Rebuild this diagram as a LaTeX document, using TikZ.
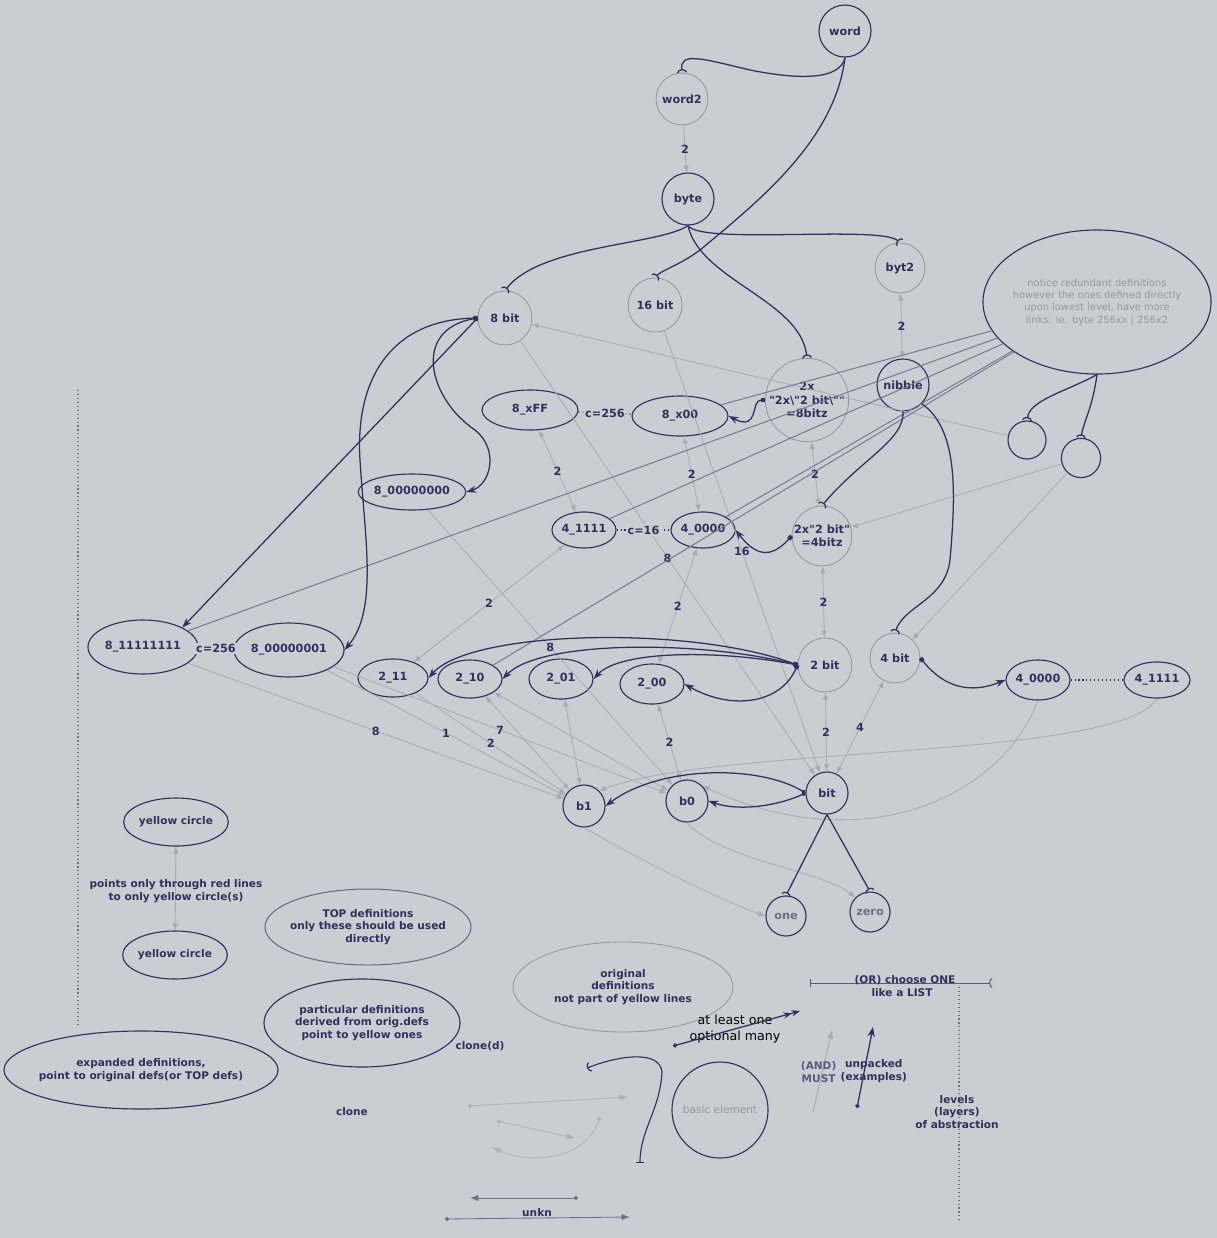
\documentclass[tikz,border=0pt]{standalone}
\usepackage{fontspec}
\setmainfont{DejaVu Sans}[Ligatures=TeXOff]
\usetikzlibrary{shapes.geometric,arrows.meta,positioning}
\definecolor{paper}{RGB}{201,206,211}
\definecolor{ink}{RGB}{46,50,92}
\definecolor{faint}{RGB}{146,151,162}
\definecolor{pale}{RGB}{166,171,180}
\tikzset{
	every node/.style={font=\fontsize{8}{9.5}\selectfont\bfseries, text=ink, align=center}, % bold labels everywhere
	small/.style={font=\fontsize{7.5}{9}\selectfont\bfseries}, % legend text
	dkc/.style={circle, draw=ink, line width=0.8pt, inner sep=0pt, minimum size=#1}, % dark circle
	ltc/.style={circle, draw=faint, line width=0.6pt, inner sep=0pt, minimum size=#1}, % light circle
	dko/.style 2 args={ellipse, draw=ink, line width=0.8pt, inner sep=0pt, minimum width=#1, minimum height=#2}, % dark ellipse
	lto/.style 2 args={ellipse, draw=faint, line width=0.6pt, inner sep=0pt, minimum width=#1, minimum height=#2}, % light ellipse
	pick/.style={draw=ink, line width=0.9pt, -{Arc Barb[reversed,length=2.5pt,width=7pt]}}, % link ending in a fork
	dline/.style={draw=ink, line width=0.9pt, {Square[length=3pt,width=3pt]}-{Stealth[length=7pt,width=5pt]}}, % expansion
	gline/.style={draw=pale, line width=0.6pt, -{Latex[length=5pt,width=4pt]}}, % light link
	gboth/.style={draw=pale, line width=0.6pt, {Latex[length=5pt,width=4pt]}-{Latex[length=5pt,width=4pt]}},
	nline/.style={draw=ink!55!paper, line width=0.7pt}, % from the note
	num/.style={inner sep=1pt}, % count on a link
	cnt/.style={draw=ink, line width=0.8pt, dotted}, % counted range
}
\begin{document}
\begin{tikzpicture}[x=0.025cm, y=-0.025cm]
	\path[use as bounding box, fill=paper] (0,0) rectangle (1217,1238);

	% upper levels
	\node[dkc=1.3cm] (word) at (845,31) {word};
	\node[ltc=1.3cm] (word2) at (682,99) {word2};
	\node[dkc=1.3cm] (byte) at (688,199) {byte};
	\node[ltc=1.25cm] (byt2) at (900,268) {byt2};
	\node[ltc=1.35cm] (b8) at (505,318) {8 bit};
	\node[ltc=1.35cm] (b16) at (655,305) {16 bit};
	\node[ltc=1.95cm] (x8) at (807,400) {2x\\"2x\textbackslash"2 bit\textbackslash""\\=8bitz};
	\node[dkc=1.3cm] (nib) at (903,385) {nibble};
	\node[dko={5.7cm}{3.6cm}, label={[text=faint, font=\fontsize{7}{8.8}\selectfont]center:{notice redundant definitions\\however the ones defined directly\\upon lowest level, have more\\links: ie. byte 256xx | 256x2}}] (note) at (1097,302) {};
	\node[dkc=0.95cm] (c1) at (1027,440) {};
	\node[dkc=0.98cm] (c2) at (1081,458) {};

	% middle levels
	\node[dko={2.4cm}{1cm}] (xFF) at (530,410) {8\_xFF};
	\node[dko={2.4cm}{1cm}] (x00) at (680,416) {8\_x00};
	\node[dko={2.6cm}{0.9cm}] (z8) at (412,492) {8\_00000000};
	\node[dko={1.6cm}{0.9cm}] (f4) at (584,530) {4\_1111};
	\node[dko={1.6cm}{0.9cm}] (z4) at (703,530) {4\_0000};
	\node[ltc=1.45cm] (x4) at (822,536) {2x"2 bit"\\=4bitz};
	\node[dko={2.75cm}{1.35cm}] (f8) at (143,647) {8\_11111111};
	\node[dko={2.75cm}{1.35cm}] (o8) at (289,650) {8\_00000001};
	\node[dko={1.75cm}{0.95cm}] (t11) at (393,678) {2\_11};
	\node[dko={1.6cm}{0.95cm}] (t10) at (470,679) {2\_10};
	\node[dko={1.6cm}{1cm}] (t01) at (561,679) {2\_01};
	\node[dko={1.6cm}{1cm}] (t00) at (652,684) {2\_00};
	\node[ltc=1.35cm] (bit2) at (825,665) {2 bit};
	\node[ltc=1.25cm] (bit4) at (895,658) {4 bit};
	\node[dko={1.6cm}{1cm}] (rz4) at (1038,680) {4\_0000};
	\node[dko={1.65cm}{0.9cm}] (rf4) at (1157,680) {4\_1111};

	% lowest level
	\node[dkc=1.05cm] (b1) at (584,806) {b1};
	\node[dkc=1.05cm] (b0) at (687,801) {b0};
	\node[dkc=1.05cm] (bit) at (827,793) {bit};
	\node[dkc=1cm, text=ink!60!paper] (one) at (786,916) {one};
	\node[dkc=1cm, text=ink!60!paper] (zero) at (870,912) {zero};

	% light links
	\draw[gline] (word2) -- node[num]{2} (byte);
	\draw[gboth] (byt2) -- node[num]{2} (nib);
	\draw[gboth] (xFF) -- node[num]{2} (f4);
	\draw[gboth] (x00) -- node[num]{2} (z4);
	\draw[gboth] (x8) -- node[num]{2} (x4);
	\draw[gboth] (x4) -- node[num]{2} (bit2);
	\draw[gboth] (bit2) -- node[num]{2} (bit);
	\draw[gboth] (bit4) -- node[num]{4} (bit);
	\draw[gboth] (t11) -- node[num]{2} (f4);
	\draw[gboth] (z4) -- node[num]{2} (t00);
	\draw[gboth] (t00) -- node[num]{2} (b0);
	\draw[gline] (b8) -- node[num]{8} (bit);
	\draw[gline] (b16) -- node[num]{16} (bit);
	\draw[gline] (z8) -- node[num]{8} (b0);
	\draw[gline] (f8) -- node[num]{8} (b1);
	\draw[gline] (o8) -- node[num]{1} (b1);
	\draw[gline] (o8) -- node[num]{7} (b0);
	\draw[gline] (t11) -- node[num]{2} (b1);
	\draw[gboth] (t10) -- (b1);
	\draw[gboth] (t01) -- (b1);
	\draw[gboth] (t10) -- (b0);
	\draw[gline] (c1) -- (b8);
	\draw[gline] (c2) -- (x4);
	\draw[gline] (c2) -- (bit4);
	\draw[gline] (rf4.south) .. controls (1120,760) and (720,745) .. (b1.north east);
	\draw[gline] (rz4.south) .. controls (1000,800) and (860,860) .. (b0.north east);
	\draw[gline] (b1.south) .. controls (640,860) and (720,900) .. (one.west);
	\draw[gline] (b0.south) .. controls (720,860) and (820,870) .. (zero.north west);
	\draw[nline] (note) -- (x00);
	\draw[nline] (note) -- (f4);
	\draw[nline] (note) -- (z4);
	\draw[nline] (note) -- (f8);
	\draw[nline] (note) -- (t10);

	% counted ranges
	\draw[cnt] (xFF) -- node[fill=paper, inner sep=1pt]{c=256} (x00);
	\draw[cnt] (f4) -- node[fill=paper, inner sep=1pt]{c=16} (z4);
	\draw[cnt] (f8) -- node[fill=paper, inner sep=1pt]{c=256} (o8);
	\draw[cnt] (rz4) -- (rf4);

	% definitions
	\draw[pick] (word.south) .. controls (840,80) and (800,80) .. (750,70) .. controls (700,58) and (680,52) .. (word2.north);
	\draw[pick] (word.south) .. controls (835,140) and (760,200) .. (700,250) .. controls (680,265) and (662,270) .. (b16.north);
	\draw[pick] (byte.south) .. controls (660,245) and (540,245) .. (b8.north);
	\draw[pick] (byte.south) .. controls (700,245) and (880,225) .. (byt2.north);
	\draw[pick] (byte.south) .. controls (700,280) and (800,300) .. (x8.north);
	\draw[pick] (nib.south) .. controls (905,440) and (860,460) .. (x4.north);
	\draw[pick] (nib.south east) .. controls (960,430) and (955,500) .. (950,560) .. controls (945,600) and (905,605) .. (bit4.north);
	\draw[pick] (bit.south) -- (one.north);
	\draw[pick] (bit.south) -- (zero.north);
	\draw[pick] (note.south) .. controls (1065,392) and (1030,400) .. (c1.north);
	\draw[pick] (note.south) .. controls (1092,410) and (1084,420) .. (c2.north);

	% expansions
	\draw[dline, {Circle[length=3pt]}-{Stealth[length=7pt,width=5pt]}] (b8.west) -- (f8.north east);
	\draw[dline] (b8.west) .. controls (390,320) and (355,380) .. (360,460) .. controls (365,540) and (378,610) .. (o8.east);
	\draw[dline] (b8.west) .. controls (410,330) and (430,400) .. (475,430) .. controls (500,450) and (490,485) .. (z8.east);
	\draw[dline] (x8.west) .. controls (750,400) and (760,432) .. (x00.east);
	\draw[dline] (x4.west) .. controls (770,560) and (755,555) .. (z4.east);
	\draw[dline] (bit2.west) .. controls (690,625) and (470,630) .. (t11.east);
	\draw[dline] (bit2.west) .. controls (700,640) and (540,640) .. (t10.east);
	\draw[dline] (bit2.west) .. controls (720,650) and (620,650) .. (t01.east);
	\draw[dline] (bit2.west) .. controls (780,705) and (730,710) .. (t00.east);
	\draw[dline] (bit4.east) .. controls (950,695) and (980,690) .. (rz4.west);
	\draw[dline, {Circle[length=3pt]}-{Stealth[length=7pt,width=5pt]}] (bit.west) .. controls (760,765) and (660,765) .. (b1.east);
	\draw[dline, {Circle[length=3pt]}-{Stealth[length=7pt,width=5pt]}] (bit.west) .. controls (780,805) and (740,812) .. (b0.east);

	% legend
	\draw[ink!70, dotted, line width=0.8pt] (78,390) -- (78,1025);
	\node[dko={2.5cm}{1.2cm}, small] (yc1) at (176,822) {yellow circle};
	\node[dko={2.5cm}{1.2cm}, small] (yc2) at (175,955) {yellow circle};
	\draw[gboth] (yc1) -- (yc2);
	\node[small] (rule) at (176,891) {points only through red lines\\to only yellow circle(s)};
	\node[ellipse, draw=ink!75, line width=0.7pt, inner sep=0pt, minimum width=5.15cm, minimum height=1.9cm, label={[small]center:{TOP definitions\\only these should be used\\directly}}] (top) at (368,927) {};
	\node[dko={4.9cm}{2.2cm}, label={[small]center:{particular definitions\\derived from orig.defs\\point to yellow ones}}] (part) at (362,1023) {};
	\node[dko={6.85cm}{1.95cm}, label={[small]center:{expanded definitions,\\point to original defs(or TOP defs)}}] (expd) at (141,1070) {};
	\node[small] (cloned) at (480,1046) {clone(d)};
	\node[small] (clone) at (352,1112) {clone};
	\node[lto={5.5cm}{2.25cm}, label={[small]center:{original\\definitions\\not part of yellow lines}}] (orig) at (623,987) {};
	\node[circle, draw=ink, line width=0.8pt, minimum size=2.4cm, inner sep=0pt, font=\fontsize{7.5}{9}\selectfont, text=faint] (basic) at (720,1110) {basic element};
	\node[font=\fontsize{9}{11}\selectfont, text=black] (many) at (735,1029) {at least one\\optional many};
	\draw[ink, line width=0.9pt, {Circle[length=3pt]}-{Stealth[length=6pt]Stealth[length=6pt]}] (673,1046) -- (800,1011);

	% link samples
	\draw[pale!80!paper, line width=0.6pt, {Circle[length=3pt]}-{Latex[length=6pt]}] (468,1106) -- (628,1097);
	\draw[pale!80!paper, line width=0.6pt, {Circle[length=3pt]}-{Latex[length=6pt]}] (497,1121) -- (575,1138);
	\draw[pale!80!paper, line width=0.6pt, {Circle[length=3pt]}-{Latex[length=6pt]}] (600,1117) .. controls (585,1160) and (530,1165) .. (492,1147);
	\draw[ink, line width=0.8pt, {Arc Barb[length=2.5pt,width=7pt]}-{Bar[width=6pt]}] (587,1068) .. controls (620,1055) and (660,1050) .. (662,1072) .. controls (660,1110) and (640,1130) .. (640,1163);
	\draw[ink!70, line width=0.6pt, {Latex[length=6pt]}-{Circle[length=3pt]}] (470,1198) -- (578,1198);
	\draw[ink!70, line width=0.6pt, {Circle[length=3pt]}-{Latex[length=6pt]}] (445,1219) -- (630,1217);
	\node[small] (unkn) at (537,1213) {unkn};
	\draw[ink!80, line width=0.7pt, {Bar[width=6pt]}-{Arc Barb[reversed,length=2pt,width=7pt]}] (810,983) -- (992,983);
	\node[small, anchor=south, inner sep=0pt] (orone) at (905,985) {(OR) choose ONE};
	\node[small] (list) at (902,993) {like a LIST};
	\draw[ink!70, dotted, line width=0.8pt] (959,983) -- (959,1222);
	\node[small] (levels) at (957,1112) {levels\\(layers)\\of abstraction};
	\draw[pale, line width=0.7pt, -{Latex[length=6pt]}] (813,1112) -- (832,1030);
	\node[small, text=ink!80, anchor=east, inner sep=1pt] (must) at (838,1072) {(AND)\\MUST};
	\draw[ink, line width=0.9pt, {Circle[length=3pt]}-{Stealth[length=7pt]}] (857,1108) -- (873,1027);
	\node[small, anchor=west, inner sep=1pt] (unpk) at (839,1071) {unpacked\\(examples)};
\end{tikzpicture}
\end{document}
